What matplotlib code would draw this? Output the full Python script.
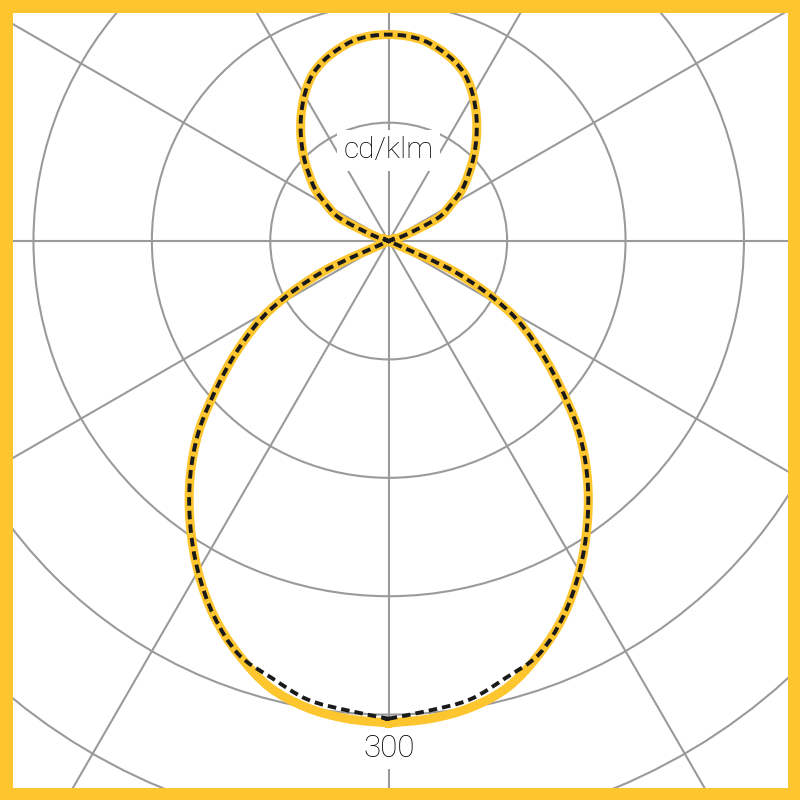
import numpy as np
import matplotlib
matplotlib.use("Agg")
import matplotlib.pyplot as plt
from matplotlib.patches import Circle, PathPatch
from matplotlib.path import Path

# Polar luminous intensity distribution (cd/klm), angle measured from nadir (down)
angles = [0, 5, 10, 15, 20, 25, 30, 35, 40, 45, 50, 55, 60, 65, 70, 75, 80, 85, 90,
          95, 100, 105, 110, 115, 120, 125, 130, 135, 140, 145, 150, 155, 160, 165,
          170, 175, 180]
c0_c180 = [305.3, 303.7, 300.0, 292.4, 278.5, 262.0, 241.6, 219.2, 195.7, 170.0,
           140.5, 113.5, 86.1, 46.6, 0, 0, 0, 0, 0,
           0, 0, 0, 11, 34, 45, 56.6, 66, 76.3, 86.5, 96.8, 106.7, 115.4, 121.3, 125.5,
           128.9, 130.4, 130.8]
c90_c270 = [302.6, 298.5, 295.0, 286.5, 278.5, 262.0, 241.6, 219.2, 195.7, 170.0,
            140.5, 113.5, 86.1, 46.6, 0, 0, 0, 0, 0,
            0, 0, 0, 11, 34, 45, 56.6, 66, 76.3, 86.5, 96.8, 106.7, 115.4, 121.3, 125.5,
            128.9, 130.4, 130.8]
ring_values = [75, 150, 225, 300, 375, 450]
spoke_angles = list(range(0, 360, 30))
unit_label = "cd/klm"
scale_label = "300"

YELLOW = "#FDC52E"
GRID = "#9a9a9a"


def to_xy(ang, vals):
    a = np.asarray(ang, dtype=float)
    v = np.asarray(vals, dtype=float)
    th = np.radians(np.concatenate([a, 360 - a[::-1][1:]]))
    r = np.concatenate([v, v[::-1][1:]])
    return np.column_stack([r * np.sin(th), -r * np.cos(th)])


def smooth_path(pts):
    # closed Catmull-Rom curve drawn as cubic Bezier segments
    n = len(pts)
    verts = [pts[0]]
    codes = [Path.MOVETO]
    for i in range(n):
        p0, p1, p2, p3 = pts[(i - 1) % n], pts[i], pts[(i + 1) % n], pts[(i + 2) % n]
        verts += [p1 + (p2 - p0) / 6.0, p2 - (p3 - p1) / 6.0, p2]
        codes += [Path.CURVE4] * 3
    return Path(np.array(verts), codes)


fig = plt.figure(figsize=(8, 8), dpi=100)
ax = fig.add_axes([0, 0, 1, 1])
ax.set_xlim(-246.2, 260.5)
ax.set_ylim(-354.1, 152.7)
ax.set_xticks([])
ax.set_yticks([])

# grid
for rv in ring_values:
    ax.add_patch(Circle((0, 0), rv, fill=False, edgecolor=GRID, lw=1.5, zorder=1))
for sa in spoke_angles:
    t = np.radians(sa)
    ax.plot([0, 700 * np.sin(t)], [0, -700 * np.cos(t)], color=GRID, lw=1.5, zorder=1)

# labels
ax.text(0, 52.4, unit_label, ha="center", va="baseline", fontsize=21.5,
        family="Roboto", weight="light", color="#000000", zorder=2,
        bbox=dict(boxstyle="square,pad=0.22", fc="white", ec="none"))
ax.text(0, -327.0, scale_label, ha="center", va="baseline", fontsize=22.5,
        family="Roboto", weight="light", color="#000000", zorder=2,
        bbox=dict(boxstyle="square,pad=0.2", fc="white", ec="none"))

# curves
ax.add_patch(PathPatch(smooth_path(to_xy(angles, c0_c180)), fill=False,
                       edgecolor=YELLOW, lw=6.5, joinstyle="round", zorder=3))
ax.add_patch(PathPatch(smooth_path(to_xy(angles, c90_c270)), fill=False,
                       edgecolor="#1a1a1a", lw=2.8, linestyle=(0, (2.2, 1.3)), zorder=4))

for s in ax.spines.values():
    s.set_color(YELLOW)
    s.set_linewidth(18)
    s.set_zorder(10)

fig.savefig("out.png", dpi=100)
